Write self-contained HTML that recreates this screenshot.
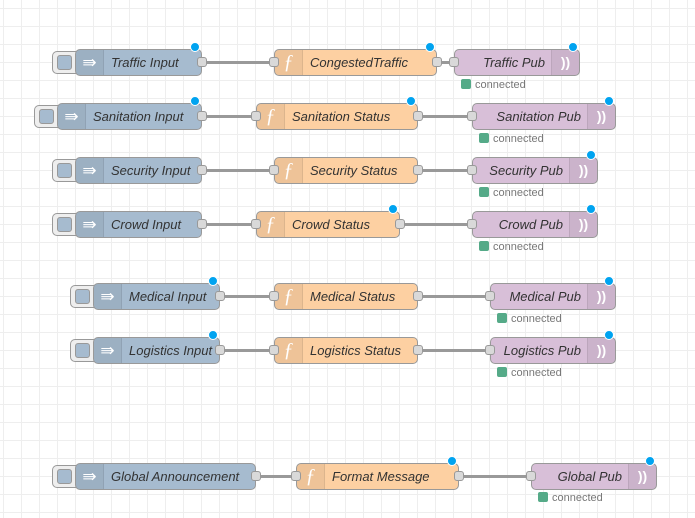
<!DOCTYPE html>
<html><head><meta charset="utf-8"><style>
html,body{margin:0;padding:0}
body{width:695px;height:518px;position:relative;overflow:hidden;background-color:#fff;
background-image:linear-gradient(to right,#eeeeee 1px,transparent 1px),linear-gradient(to bottom,#eeeeee 1px,transparent 1px);
background-size:18px 18px;background-position:3px 8px;font-family:"Liberation Sans",sans-serif}
.n{position:absolute;height:27px;border:1px solid #999;border-radius:5px;box-sizing:border-box;font-style:italic;font-size:13px;color:#333;line-height:25px;white-space:nowrap}
.inj{background:#a6bbcf}.fn{background:#fdd0a2}.pub{background:#d8bfd8}
.ic{position:absolute;top:0;bottom:0;width:27px;background:rgba(0,0,0,0.06);color:#fff;text-align:center;font-style:normal;font-size:17px}
.inj .ic,.fn .ic{left:0;border-right:1px solid rgba(0,0,0,0.08);border-radius:4px 0 0 4px}
.fn .ic{font-size:20px;font-style:italic;font-family:"Liberation Serif",serif}
.pub .ic{right:0;border-left:1px solid rgba(0,0,0,0.08);border-radius:0 4px 4px 0;font-size:14px;font-weight:bold}
.lab{position:absolute;left:35px;top:0}
.pub .lab{left:auto;right:34px}
.btn{position:absolute;width:24px;height:23px;border:1px solid #999;border-right:none;border-radius:5px 0 0 5px;background:#eee;box-sizing:border-box}
.btn:after{content:"";position:absolute;left:4px;top:3px;width:15px;height:15px;background:#a6bbcf;border:1px solid #999;border-radius:3px;box-sizing:border-box}
.p{position:absolute;width:10px;height:10px;background:#d9d9d9;border:1px solid #999;border-radius:3px;box-sizing:border-box}
.d{position:absolute;width:10px;height:10px;border-radius:50%;background:#00a3f0;border:1px solid #fff;box-sizing:border-box}
.w{position:absolute;height:3px;background:#999}
.st{position:absolute;font-size:11px;color:#777;line-height:12px}
.st:before{content:"";display:inline-block;width:10px;height:10px;background:#5a8;border-radius:2px;margin-right:4px;vertical-align:-1px}
</style></head><body>

<div class="btn" style="left:52px;top:51px"></div>
<div class="n inj" style="left:75px;top:49px;width:127px"><div class="ic">⇛</div><span class="lab">Traffic Input</span></div>
<div class="d" style="left:190px;top:42px"></div>
<div class="w" style="left:202px;top:61px;width:72px"></div>
<div class="p" style="left:197px;top:57px"></div>
<div class="n fn" style="left:274px;top:49px;width:163px"><div class="ic">ƒ</div><span class="lab">CongestedTraffic</span></div>
<div class="p" style="left:269px;top:57px"></div>
<div class="d" style="left:425px;top:42px"></div>
<div class="w" style="left:437px;top:61px;width:17px"></div>
<div class="p" style="left:432px;top:57px"></div>
<div class="n pub" style="left:454px;top:49px;width:126px"><span class="lab">Traffic Pub</span><div class="ic">))</div></div>
<div class="p" style="left:449px;top:57px"></div>
<div class="d" style="left:568px;top:42px"></div>
<div class="st" style="left:461px;top:79px">connected</div>

<div class="btn" style="left:34px;top:105px"></div>
<div class="n inj" style="left:57px;top:103px;width:145px"><div class="ic">⇛</div><span class="lab">Sanitation Input</span></div>
<div class="d" style="left:190px;top:96px"></div>
<div class="w" style="left:202px;top:115px;width:54px"></div>
<div class="p" style="left:197px;top:111px"></div>
<div class="n fn" style="left:256px;top:103px;width:162px"><div class="ic">ƒ</div><span class="lab">Sanitation Status</span></div>
<div class="p" style="left:251px;top:111px"></div>
<div class="d" style="left:406px;top:96px"></div>
<div class="w" style="left:418px;top:115px;width:54px"></div>
<div class="p" style="left:413px;top:111px"></div>
<div class="n pub" style="left:472px;top:103px;width:144px"><span class="lab">Sanitation Pub</span><div class="ic">))</div></div>
<div class="p" style="left:467px;top:111px"></div>
<div class="d" style="left:604px;top:96px"></div>
<div class="st" style="left:479px;top:133px">connected</div>

<div class="btn" style="left:52px;top:159px"></div>
<div class="n inj" style="left:75px;top:157px;width:127px"><div class="ic">⇛</div><span class="lab">Security Input</span></div>
<div class="w" style="left:202px;top:169px;width:72px"></div>
<div class="p" style="left:197px;top:165px"></div>
<div class="n fn" style="left:274px;top:157px;width:144px"><div class="ic">ƒ</div><span class="lab">Security Status</span></div>
<div class="p" style="left:269px;top:165px"></div>
<div class="w" style="left:418px;top:169px;width:54px"></div>
<div class="p" style="left:413px;top:165px"></div>
<div class="n pub" style="left:472px;top:157px;width:126px"><span class="lab">Security Pub</span><div class="ic">))</div></div>
<div class="p" style="left:467px;top:165px"></div>
<div class="d" style="left:586px;top:150px"></div>
<div class="st" style="left:479px;top:187px">connected</div>

<div class="btn" style="left:52px;top:213px"></div>
<div class="n inj" style="left:75px;top:211px;width:127px"><div class="ic">⇛</div><span class="lab">Crowd Input</span></div>
<div class="w" style="left:202px;top:223px;width:54px"></div>
<div class="p" style="left:197px;top:219px"></div>
<div class="n fn" style="left:256px;top:211px;width:144px"><div class="ic">ƒ</div><span class="lab">Crowd Status</span></div>
<div class="p" style="left:251px;top:219px"></div>
<div class="d" style="left:388px;top:204px"></div>
<div class="w" style="left:400px;top:223px;width:72px"></div>
<div class="p" style="left:395px;top:219px"></div>
<div class="n pub" style="left:472px;top:211px;width:126px"><span class="lab">Crowd Pub</span><div class="ic">))</div></div>
<div class="p" style="left:467px;top:219px"></div>
<div class="d" style="left:586px;top:204px"></div>
<div class="st" style="left:479px;top:241px">connected</div>

<div class="btn" style="left:70px;top:285px"></div>
<div class="n inj" style="left:93px;top:283px;width:127px"><div class="ic">⇛</div><span class="lab">Medical Input</span></div>
<div class="d" style="left:208px;top:276px"></div>
<div class="w" style="left:220px;top:295px;width:54px"></div>
<div class="p" style="left:215px;top:291px"></div>
<div class="n fn" style="left:274px;top:283px;width:144px"><div class="ic">ƒ</div><span class="lab">Medical Status</span></div>
<div class="p" style="left:269px;top:291px"></div>
<div class="w" style="left:418px;top:295px;width:72px"></div>
<div class="p" style="left:413px;top:291px"></div>
<div class="n pub" style="left:490px;top:283px;width:126px"><span class="lab">Medical Pub</span><div class="ic">))</div></div>
<div class="p" style="left:485px;top:291px"></div>
<div class="d" style="left:604px;top:276px"></div>
<div class="st" style="left:497px;top:313px">connected</div>

<div class="btn" style="left:70px;top:339px"></div>
<div class="n inj" style="left:93px;top:337px;width:127px"><div class="ic">⇛</div><span class="lab">Logistics Input</span></div>
<div class="d" style="left:208px;top:330px"></div>
<div class="w" style="left:220px;top:349px;width:54px"></div>
<div class="p" style="left:215px;top:345px"></div>
<div class="n fn" style="left:274px;top:337px;width:144px"><div class="ic">ƒ</div><span class="lab">Logistics Status</span></div>
<div class="p" style="left:269px;top:345px"></div>
<div class="w" style="left:418px;top:349px;width:72px"></div>
<div class="p" style="left:413px;top:345px"></div>
<div class="n pub" style="left:490px;top:337px;width:126px"><span class="lab">Logistics Pub</span><div class="ic">))</div></div>
<div class="p" style="left:485px;top:345px"></div>
<div class="d" style="left:604px;top:330px"></div>
<div class="st" style="left:497px;top:367px">connected</div>

<div class="btn" style="left:52px;top:465px"></div>
<div class="n inj" style="left:75px;top:463px;width:181px"><div class="ic">⇛</div><span class="lab">Global Announcement</span></div>
<div class="w" style="left:256px;top:475px;width:40px"></div>
<div class="p" style="left:251px;top:471px"></div>
<div class="n fn" style="left:296px;top:463px;width:163px"><div class="ic">ƒ</div><span class="lab">Format Message</span></div>
<div class="p" style="left:291px;top:471px"></div>
<div class="d" style="left:447px;top:456px"></div>
<div class="w" style="left:459px;top:475px;width:72px"></div>
<div class="p" style="left:454px;top:471px"></div>
<div class="n pub" style="left:531px;top:463px;width:126px"><span class="lab">Global Pub</span><div class="ic">))</div></div>
<div class="p" style="left:526px;top:471px"></div>
<div class="d" style="left:645px;top:456px"></div>
<div class="st" style="left:538px;top:492px">connected</div>

</body></html>
